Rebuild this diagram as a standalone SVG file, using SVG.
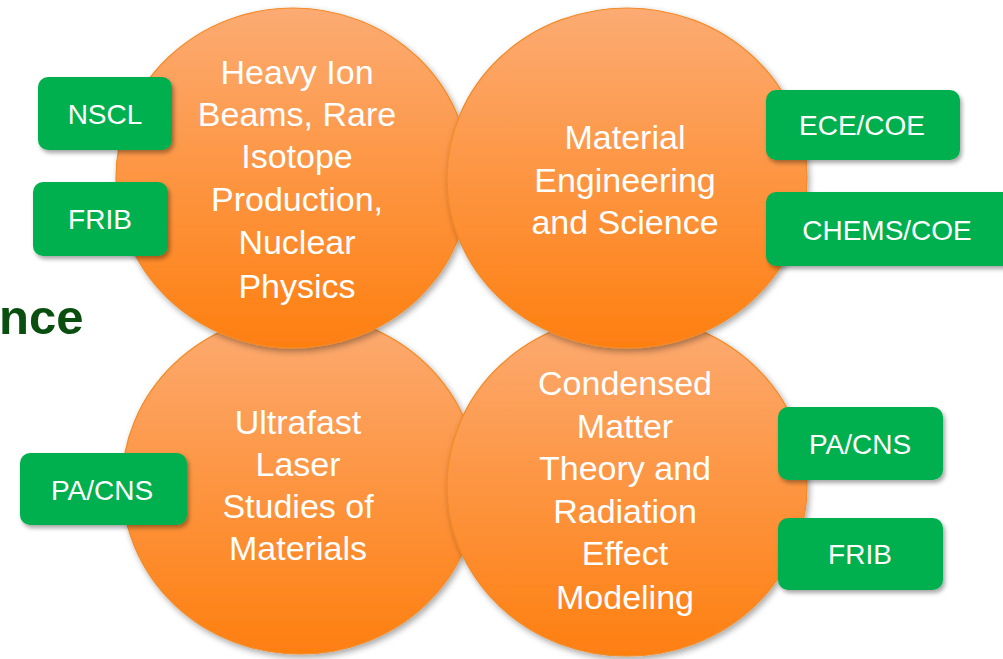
<svg xmlns="http://www.w3.org/2000/svg" width="1003" height="659" viewBox="0 0 1003 659">
  <defs>
    <linearGradient id="orangeFill" x1="0" y1="0" x2="0" y2="1">
      <stop offset="0" stop-color="#FCAB73"/>
      <stop offset="1" stop-color="#FE7F10"/>
    </linearGradient>
    <filter id="softShadow" x="-20%" y="-20%" width="140%" height="140%">
      <feDropShadow dx="2" dy="3" stdDeviation="3" flood-color="#000" flood-opacity="0.35"/>
    </filter>
    <filter id="boxShadow" x="-20%" y="-20%" width="140%" height="150%">
      <feDropShadow dx="2" dy="3" stdDeviation="2" flood-color="#000" flood-opacity="0.35"/>
    </filter>
  </defs>
  <style>
    .circle { fill: url(#orangeFill); stroke: #F38A25; stroke-width: 1.2; filter: url(#softShadow); }
    .topic { font-family: "Liberation Sans", Arial, sans-serif; font-size: 34px; fill: #FFFFFF; text-anchor: middle; }
    .box { fill: #00B050; filter: url(#boxShadow); }
    .unit { font-family: "Liberation Sans", Arial, sans-serif; font-size: 28px; fill: #FFFFFF; text-anchor: middle; }
    .heading { font-family: "Liberation Sans", Arial, sans-serif; font-size: 49px; font-weight: bold; fill: #0B4F10; }
  </style>

  <rect width="1003" height="659" fill="#FFFFFF"/>

  <!-- partial heading at the left edge -->
  <text class="heading" x="-1" y="334">nce</text>

  <g id="connectors"/>

  <!-- research topics -->
  <g id="topic-ultrafast">
    <ellipse class="circle" cx="300" cy="484" rx="178" ry="170"/>
    <text class="topic" x="298" y="434">Ultrafast</text>
    <text class="topic" x="298" y="476">Laser</text>
    <text class="topic" x="298" y="518">Studies of</text>
    <text class="topic" x="298" y="560">Materials</text>
  </g>

  <g id="topic-condensed-matter">
    <ellipse class="circle" cx="627" cy="486" rx="180" ry="170"/>
    <text class="topic" x="625" y="395">Condensed</text>
    <text class="topic" x="625" y="438">Matter</text>
    <text class="topic" x="625" y="480">Theory and</text>
    <text class="topic" x="625" y="523">Radiation</text>
    <text class="topic" x="625" y="565">Effect</text>
    <text class="topic" x="625" y="609">Modeling</text>
  </g>

  <g id="topic-heavy-ion">
    <ellipse class="circle" cx="293" cy="178" rx="177" ry="170"/>
    <text class="topic" x="297" y="84">Heavy Ion</text>
    <text class="topic" x="297" y="126">Beams, Rare</text>
    <text class="topic" x="297" y="168">Isotope</text>
    <text class="topic" x="297" y="211">Production,</text>
    <text class="topic" x="297" y="254">Nuclear</text>
    <text class="topic" x="297" y="298">Physics</text>
  </g>

  <g id="topic-materials">
    <ellipse class="circle" cx="627" cy="178" rx="180" ry="170"/>
    <text class="topic" x="625" y="149">Material</text>
    <text class="topic" x="625" y="192">Engineering</text>
    <text class="topic" x="625" y="234">and Science</text>
  </g>

  <!-- partner units -->
  <g id="unit-nscl">
    <rect class="box" x="38" y="77" width="134" height="73" rx="10"/>
    <text class="unit" x="105" y="124">NSCL</text>
  </g>
  <g id="unit-frib-top">
    <rect class="box" x="33" y="182" width="135" height="74" rx="10"/>
    <text class="unit" x="100" y="229">FRIB</text>
  </g>
  <g id="unit-ece-coe">
    <rect class="box" x="766" y="90" width="194" height="70" rx="10"/>
    <text class="unit" x="862" y="135">ECE/COE</text>
  </g>
  <g id="unit-chems-coe">
    <rect class="box" x="766" y="192" width="250" height="74" rx="10"/>
    <text class="unit" x="887" y="240">CHEMS/COE</text>
  </g>
  <g id="unit-pa-cns-left">
    <rect class="box" x="20" y="453" width="167" height="72" rx="10"/>
    <text class="unit" x="102" y="500">PA/CNS</text>
  </g>
  <g id="unit-pa-cns-right">
    <rect class="box" x="778" y="407" width="165" height="73" rx="10"/>
    <text class="unit" x="860" y="454">PA/CNS</text>
  </g>
  <g id="unit-frib-bottom">
    <rect class="box" x="778" y="518" width="165" height="72" rx="10"/>
    <text class="unit" x="860" y="564">FRIB</text>
  </g>
</svg>
